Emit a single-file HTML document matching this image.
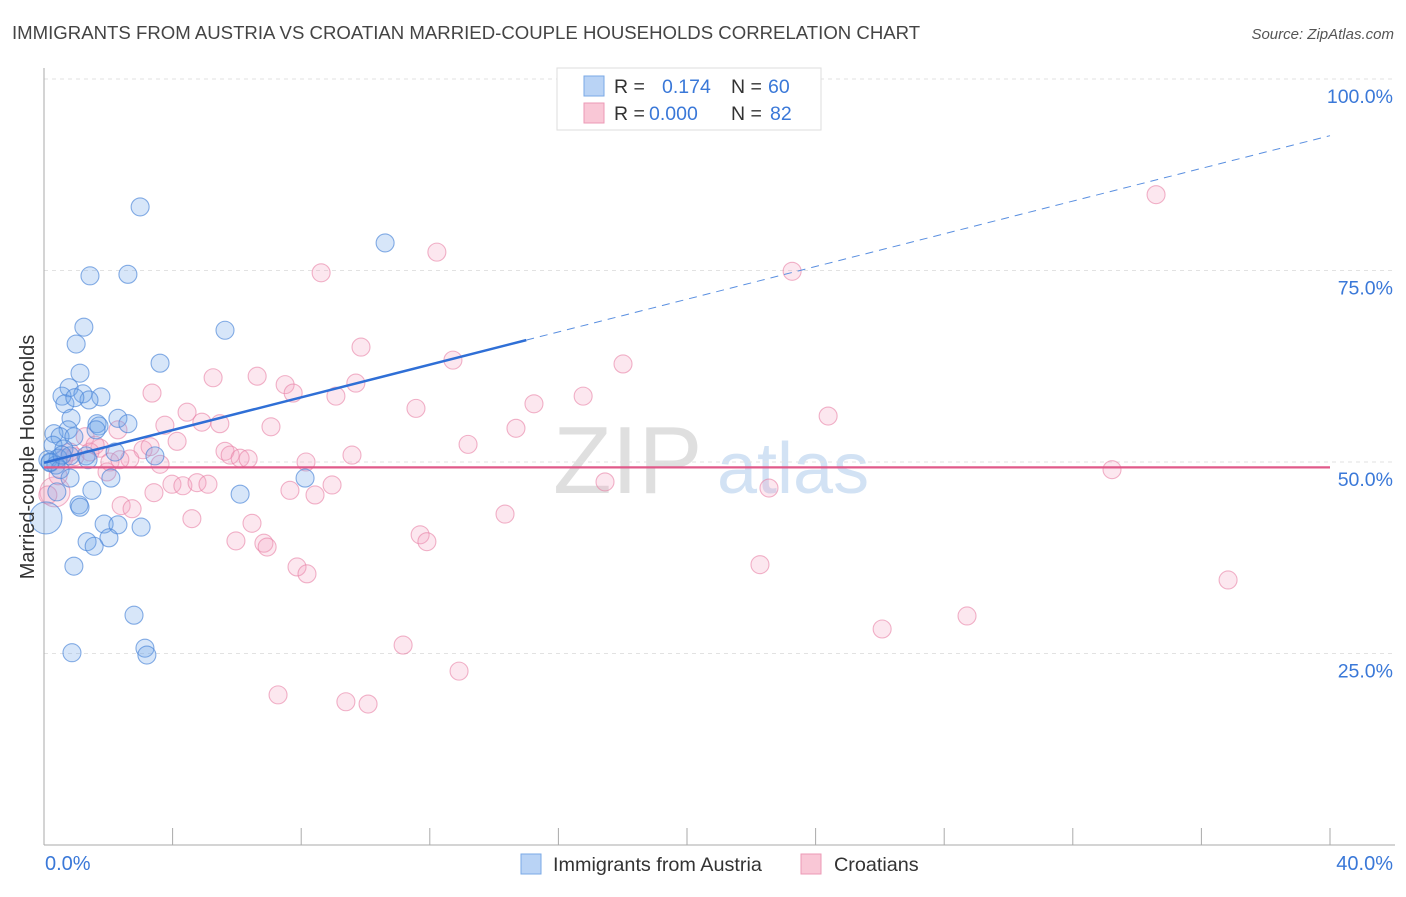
<!DOCTYPE html>
<html><head><meta charset="utf-8">
<style>
body{margin:0;background:#fff;font-family:"Liberation Sans",sans-serif;}
svg text{font-family:"Liberation Sans",sans-serif;}
</style></head>
<body>
<svg id="chart" width="1406" height="892" xmlns="http://www.w3.org/2000/svg">
<text x="12" y="39" font-size="18.6" fill="#444">IMMIGRANTS FROM AUSTRIA VS CROATIAN MARRIED-COUPLE HOUSEHOLDS CORRELATION CHART</text>
<text x="1394" y="39" font-size="15" fill="#555" text-anchor="end" font-style="italic">Source: ZipAtlas.com</text>
<g>
<text x="553" y="493" font-size="96" fill="#d8d8d8" font-family="Liberation Serif,serif" opacity="0.8">ZIP</text>
<text x="717" y="493" font-size="72" fill="#c8dcf2" opacity="0.8">atlas</text>
</g>
<g id="grid"></g>
<g id="axes"></g>
<g id="pts"></g>
<g id="trend"></g>
<text transform="translate(34,457) rotate(-90)" font-size="20" fill="#333" text-anchor="middle">Married-couple Households</text>
<g>
<rect x="557" y="68" width="264" height="62" fill="#fff" stroke="#ddd"/>
<rect x="584" y="76" width="20" height="20" fill="#b9d3f5" stroke="#7aa8e6"/>
<rect x="584" y="103" width="20" height="20" fill="#f9c7d6" stroke="#ec9ab6"/>
<text x="614" y="93" font-size="19.5" fill="#333">R = </text><text x="662" y="93" font-size="19.5" fill="#3a78d8">0.174</text>
<text x="731" y="93" font-size="19.5" fill="#333">N = </text><text x="768" y="93" font-size="19.5" fill="#3a78d8">60</text>
<text x="614" y="120" font-size="19.5" fill="#333">R = </text><text x="649" y="120" font-size="19.5" fill="#3a78d8">0.000</text>
<text x="731" y="120" font-size="19.5" fill="#333">N = </text><text x="770" y="120" font-size="19.5" fill="#3a78d8">82</text>
</g>
<g>
<rect x="521" y="854" width="20" height="20" fill="#b9d3f5" stroke="#7aa8e6"/>
<text x="553" y="871" font-size="19.8" fill="#333">Immigrants from Austria</text>
<rect x="801" y="854" width="20" height="20" fill="#f9c7d6" stroke="#ec9ab6"/>
<text x="834" y="871" font-size="19.8" fill="#333">Croatians</text>
</g>
</svg>
<script>
const blueX=[2.99,10.61,1.43,2.61,1.24,5.63,1.00,3.61,1.12,0.78,1.21,0.56,1.77,0.65,1.40,0.84,2.30,2.61,1.65,1.71,0.75,0.31,0.50,0.93,0.28,0.62,2.21,3.45,1.31,0.44,0.81,0.12,1.37,0.19,0.37,0.50,0.81,2.08,8.12,1.49,0.40,6.10,1.09,1.12,1.87,2.30,3.02,1.34,2.02,1.56,0.93,2.80,3.14,0.87,3.20,0.06,0.19,0.56,1.62,0.96];
const blueY=[83.3,78.6,74.3,74.5,67.6,67.2,65.4,62.9,61.6,59.7,58.9,58.6,58.5,57.6,58.1,55.7,55.7,55.0,55.0,54.7,54.2,53.7,53.3,53.3,52.2,51.7,51.3,50.8,50.8,50.5,50.8,50.3,50.3,49.9,49.6,49.0,47.9,47.9,47.9,46.3,46.1,45.8,44.4,44.1,41.9,41.8,41.5,39.6,40.1,39.0,36.4,30.0,25.7,25.1,24.8,42.7,50.0,50.9,54.2,58.4];
const pinkX=[34.59,12.22,8.62,23.27,9.86,12.72,18.01,6.63,5.26,7.50,9.70,7.75,9.08,3.36,16.77,11.57,15.24,24.39,4.45,5.47,3.76,4.91,7.06,14.68,2.30,1.28,4.14,13.19,1.74,3.08,5.63,5.79,6.10,9.58,0.96,6.35,2.67,8.15,3.61,33.22,17.45,1.96,22.55,3.98,4.32,4.76,5.10,7.65,8.96,3.42,8.43,2.40,2.74,4.60,14.34,6.47,5.97,11.70,11.91,6.84,6.94,7.87,8.18,22.27,36.83,28.71,26.07,11.17,12.91,7.28,9.39,10.08,0.34,0.12,0.62,1.43,2.05,3.30,0.44,0.81,1.59,2.36];
const pinkY=[84.9,77.4,74.7,74.9,65.0,63.3,62.8,61.2,61.0,60.1,60.3,59.0,58.6,59.0,58.6,57.0,57.6,56.0,56.5,55.0,54.8,55.2,54.6,54.4,54.2,53.3,52.7,52.3,51.8,51.6,51.4,50.9,50.5,50.9,50.7,50.4,50.4,50.0,49.7,49.0,47.4,48.7,46.6,47.1,46.9,47.3,47.1,46.3,47.0,46.0,45.7,44.3,43.9,42.6,43.2,42.0,39.7,40.5,39.6,39.4,38.9,36.3,35.4,36.6,34.6,29.9,28.2,26.1,22.7,19.6,18.7,18.4,46.1,45.7,50.5,51.3,50.0,52.0,48.2,51.3,52.2,50.3];
const bigBlue=[55];
const bigPink=[72];
const blueTrend=[49.9,92.6];   // y at x=0 and x=40
const blueSolidEnd=[15.0];
const pinkTrend=[49.3,49.3];
const yTicks=[100,75,50,25];
const yTickLabels=["100.0%","75.0%","50.0%","25.0%"];
const xTicks=[0,4,8,12,16,20,24,28,32,36,40];

const X0=44,X1=1330,Y0=845,YH=79;
const sx=v=>X0+(X1-X0)*v/40;
const sy=v=>Y0-(Y0-YH)*v/100;
const NS="http://www.w3.org/2000/svg";
function mk(tag,attrs,parent){const e=document.createElementNS(NS,tag);for(const k in attrs)e.setAttribute(k,attrs[k]);parent.appendChild(e);return e;}

const grid=document.getElementById('grid');
yTicks.forEach((t,i)=>{
  const l=mk('line',{x1:X0,x2:1395,y1:sy(t),y2:sy(t),stroke:'#e2e2e2','stroke-dasharray':'4,4'},grid);
  
  
  const tx=mk('text',{x:1393,y:sy(t)+24,'font-size':19.5,fill:'#3a78d8','text-anchor':'end'},grid);
  tx.textContent=yTickLabels[i];
  
  
});
const axes=document.getElementById('axes');
mk('line',{x1:X0,x2:X0,y1:68,y2:Y0,stroke:'#aaa'},axes);
mk('line',{x1:X0,x2:1395,y1:Y0,y2:Y0,stroke:'#aaa'},axes);
xTicks.forEach(t=>{
  const l=mk('line',{x1:sx(t),x2:sx(t),y1:828,y2:Y0,stroke:'#aaa'},axes);
  
  
});
const xl0=mk('text',{x:45,y:870,'font-size':20,fill:'#3a78d8'},axes);xl0.textContent='0.0%';


const xl1=mk('text',{x:1393,y:870,'font-size':20,fill:'#3a78d8','text-anchor':'end'},axes);xl1.textContent='40.0%';



const pts=document.getElementById('pts');
pinkX.forEach((x,i)=>{
  const c=mk('circle',{cx:sx(x),cy:sy(pinkY[i]),r:bigPink.includes(i)?15:9,fill:'rgba(244,160,190,0.25)',stroke:'rgba(232,128,165,0.6)','stroke-width':1.1},pts);
  
  
});
blueX.forEach((x,i)=>{
  const c=mk('circle',{cx:sx(x),cy:sy(blueY[i]),r:bigBlue.includes(i)?16:9,fill:'rgba(110,165,235,0.28)',stroke:'rgba(70,130,215,0.65)','stroke-width':1.1},pts);
  
  
});
const tr=document.getElementById('trend');
const by=x=>blueTrend[0]+(blueTrend[1]-blueTrend[0])*x/40;
const t1=mk('line',{x1:sx(0),y1:sy(by(0)),x2:sx(blueSolidEnd[0]),y2:sy(by(blueSolidEnd[0])),stroke:'#2f6fd6','stroke-width':2.5},tr);


const t2=mk('line',{x1:sx(blueSolidEnd[0]),y1:sy(by(blueSolidEnd[0])),x2:sx(40),y2:sy(by(40)),stroke:'#5a8fe0','stroke-width':1,'stroke-dasharray':'8,6'},tr);


const t3=mk('line',{x1:sx(0),y1:sy(pinkTrend[0]),x2:sx(40),y2:sy(pinkTrend[1]),stroke:'#e05a8a','stroke-width':2.2},tr);


</script>
</body></html>
